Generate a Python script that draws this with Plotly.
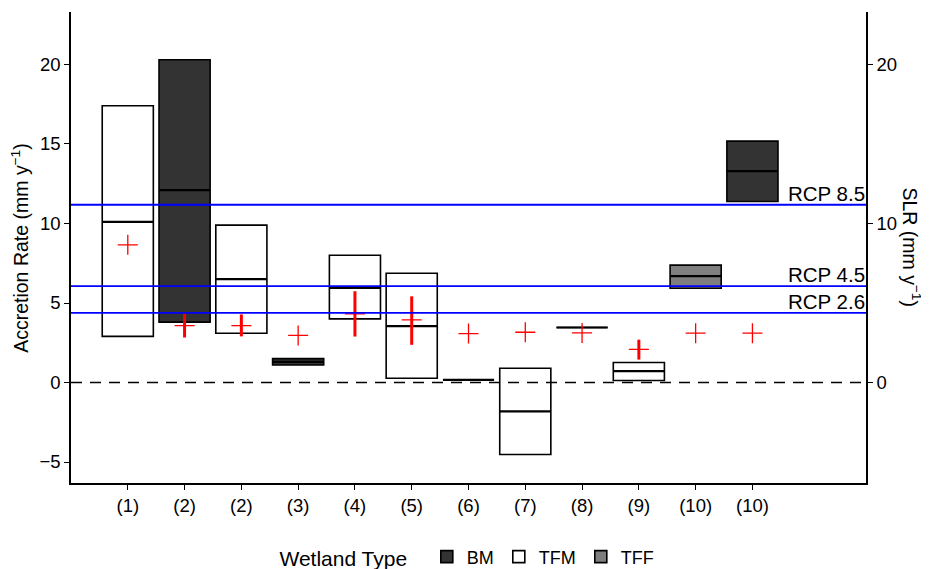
import plotly.graph_objects as go

# ---- data ----
labels = ["(1)", "(2)", "(2)", "(3)", "(4)", "(5)", "(6)", "(7)", "(8)", "(9)", "(10)", "(10)"]
wtype = ["TFM", "BM", "TFM", "BM", "TFM", "TFM", "TFM", "TFM", "BM", "TFM", "TFF", "BM"]
acc_min = [2.9, 3.8, 3.1, 1.1, 4.0, 0.27, 0.17, -4.53, 3.46, 0.13, 5.93, 11.38]
acc_med = [10.1, 12.1, 6.5, 1.3, 5.95, 3.54, 0.17, -1.82, 3.46, 0.71, 6.69, 13.29]
acc_max = [17.4, 20.3, 9.9, 1.5, 8.0, 6.87, 0.17, 0.9, 3.46, 1.26, 7.38, 15.18]
slr = [8.66, 3.58, 3.58, 2.96, 4.32, 3.94, 3.08, 3.16, 3.12, 2.08, 3.1, 3.1]
slr_lo = [8.66, 2.83, 2.9, 2.96, 2.89, 2.37, 3.08, 3.16, 3.12, 1.45, 3.1, 3.1]
slr_hi = [8.66, 4.34, 4.28, 2.96, 5.74, 5.42, 3.08, 3.16, 3.12, 2.68, 3.1, 3.1]
rcp_names = ["RCP 2.6", "RCP 4.5", "RCP 8.5"]
rcp_vals = [4.38, 6.06, 11.18]
type_order = ["BM", "TFM", "TFF"]
type_colors = {"BM": "#333333", "TFM": "#FFFFFF", "TFF": "#7F7F7F"}

FONT = "Liberation Sans, Arial, sans-serif"
pos = list(range(1, len(labels) + 1))
W = 0.9

fig = go.Figure()

for t in type_order:
    xs = [p for p, w in zip(pos, wtype) if w == t]
    bases = [mn for mn, w in zip(acc_min, wtype) if w == t]
    heights = [mx - mn for mn, mx, w in zip(acc_min, acc_max, wtype) if w == t]
    fig.add_trace(go.Bar(
        x=xs, y=heights, base=bases, width=W, name=t,
        marker=dict(color=type_colors[t], line=dict(color="black", width=1.6)),
        hoverinfo="skip",
    ))

# median lines
mx_, my_ = [], []
for p, m in zip(pos, acc_med):
    mx_ += [p - W / 2, p + W / 2, None]
    my_ += [m, m, None]
fig.add_trace(go.Scatter(x=mx_, y=my_, mode="lines", line=dict(color="black", width=2.2),
                         showlegend=False, hoverinfo="skip"))

# SLR crosses with error bars
fig.add_trace(go.Scatter(
    x=pos, y=slr, mode="markers", yaxis="y2", showlegend=False,
    marker=dict(symbol="cross-thin", size=14.3, line=dict(color="red", width=1.3), color="red"),
    error_y=dict(type="data", symmetric=False,
                 array=[h - v for h, v in zip(slr_hi, slr)],
                 arrayminus=[v - l for v, l in zip(slr, slr_lo)],
                 color="red", thickness=3, width=0),
))

shapes = [dict(type="line", xref="paper", x0=0, x1=1, yref="y", y0=0, y1=0,
               line=dict(color="black", width=1.6, dash="11px,8px"), layer="above")]
annotations = []
for n, v in zip(rcp_names, rcp_vals):
    shapes.append(dict(type="line", xref="paper", x0=0, x1=1, yref="y", y0=v, y1=v,
                       line=dict(color="#0000FF", width=1.8), layer="above"))
    annotations.append(dict(text=n, xref="paper", x=1, xanchor="right", yref="y", y=v,
                            yanchor="bottom", showarrow=False, yshift=-2, xshift=1,
                            font=dict(family=FONT, size=20.5, color="black")))
annotations.append(dict(text="SLR (mm y<sup>\u22121</sup>)", xref="paper", x=1.058, yref="paper", y=0.5,
                        xanchor="center", yanchor="middle", textangle=90, showarrow=False,
                        font=dict(family=FONT, size=19.5, color="black")))
annotations.append(dict(text="Accretion Rate (mm y<sup>\u22121</sup>)", xref="paper", x=-0.065,
                        yref="paper", y=0.5, xanchor="center", yanchor="middle", textangle=-90,
                        showarrow=False, font=dict(family=FONT, size=19.5, color="black")))

yr = [-6.32, 23.3]
fig.update_layout(
    width=921, height=561,
    margin=dict(l=63, r=63, t=4, b=86, autoexpand=False),
    plot_bgcolor="white", paper_bgcolor="white",
    barmode="overlay",
    font=dict(family=FONT, color="black"),
    shapes=shapes, annotations=annotations,
    xaxis=dict(range=[0, 14], tickvals=pos, ticktext=labels, showgrid=False, zeroline=False,
               showline=True, linecolor="black", linewidth=1.6, ticks="outside", ticklen=5,
               tickcolor="black", tickwidth=1.3, tickfont=dict(size=18.5, color="black"),
               automargin=False),
    yaxis=dict(range=yr, tickvals=[-5, 0, 5, 10, 15, 20], showgrid=False, zeroline=False,
               showline=True, linecolor="black", linewidth=1.6, ticks="outside", ticklen=5,
               tickcolor="black", tickwidth=1.3, tickfont=dict(size=18.5, color="black"),
               automargin=False),
    yaxis2=dict(range=yr, tickvals=[0, 10, 20], overlaying="y", side="right", showgrid=False,
                zeroline=False, showline=True, linecolor="black", linewidth=1.6, ticks="outside",
                ticklen=5, tickcolor="black", tickwidth=1.3, tickfont=dict(size=18.5, color="black"),
                automargin=False),
    legend=dict(orientation="h", x=0.5, xanchor="center", y=-0.158, yanchor="middle",
                title=dict(text="Wetland Type  ", font=dict(size=21)), font=dict(size=18),
                traceorder="normal"),
)

fig.write_html("out.html")
